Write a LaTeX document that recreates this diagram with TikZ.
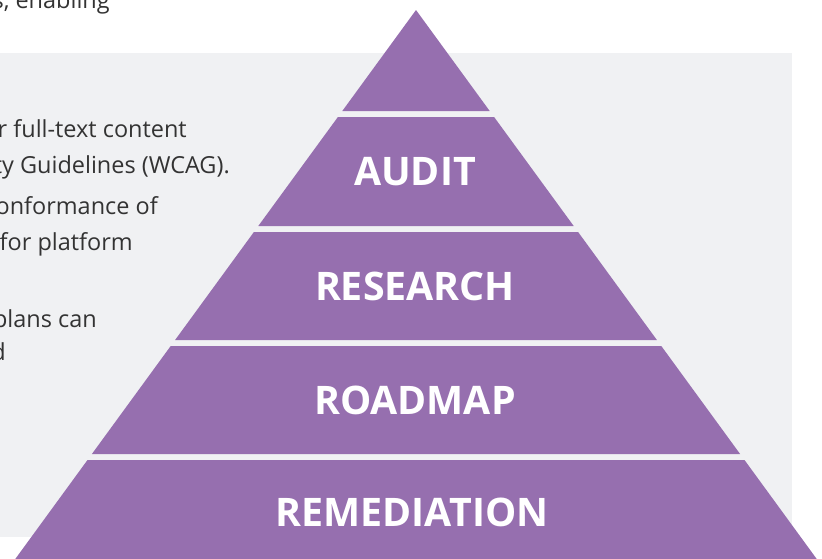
\documentclass[tikz,border=0pt]{standalone}
\usepackage{fontspec}
\setmainfont{Open Sans}
\usepackage{xcolor}
\usepackage{tikz}

\definecolor{pyr}{HTML}{966FAF}
\definecolor{panel}{HTML}{F0F1F3}
\definecolor{body}{HTML}{333333}

\begin{document}
\begin{tikzpicture}[x=0.75pt,y=-0.75pt,
        layer/.style={fill=pyr},
        lbl/.style={text=white,font=\bfseries\fontsize{29.5}{36}\selectfont,inner sep=0pt},
        txt/.style={text=body,font=\fontsize{17.6}{26}\selectfont,anchor=base east,inner sep=0pt}]
        \useasboundingbox (0,0) rectangle (822,558);
        \clip (0,0) rectangle (822,558);
        \fill[panel] (-10,53) rectangle (792,537);
        
        % text cut off on the left
        \node[txt] (t0) at (110,8) {s, enabling};
        \node[txt] (t1) at (187,137) {r full-text content};
        \node[txt] (t2) at (230,173) {ty Guidelines (WCAG).};
        \node[txt] (t3) at (158,214) {onformance of};
        \node[txt] (t4) at (133,250) {for platform};
        \node[txt] (t5) at (97,327) {plans can};
        \node[txt] (t6) at (6,360) {d};
        
        % pyramid layers
        \fill[layer] (416,10) -- (489.7,111) -- (342.3,111) -- cycle;
        \fill[layer] (337.9,117) -- (494.1,117) -- (573.7,226) -- (258.3,226) -- cycle;
        \fill[layer] (253.9,232) -- (578.1,232) -- (656.9,340) -- (175.1,340) -- cycle;
        \fill[layer] (170.7,346) -- (661.3,346) -- (740.1,454) -- (91.9,454) -- cycle;
        \fill[layer] (87.5,460) -- (744.5,460) -- (823.3,568) -- (8.7,568) -- cycle;
        
        \node[lbl] (audit) at (415,171.5) {AUDIT};
        \node[lbl] (research) at (415,286) {RESEARCH};
        \node[lbl] (roadmap) at (415,400) {ROADMAP};
        \node[lbl] (remediation) at (412,512) {REMEDIATION};
    \end{tikzpicture}
\end{document}
